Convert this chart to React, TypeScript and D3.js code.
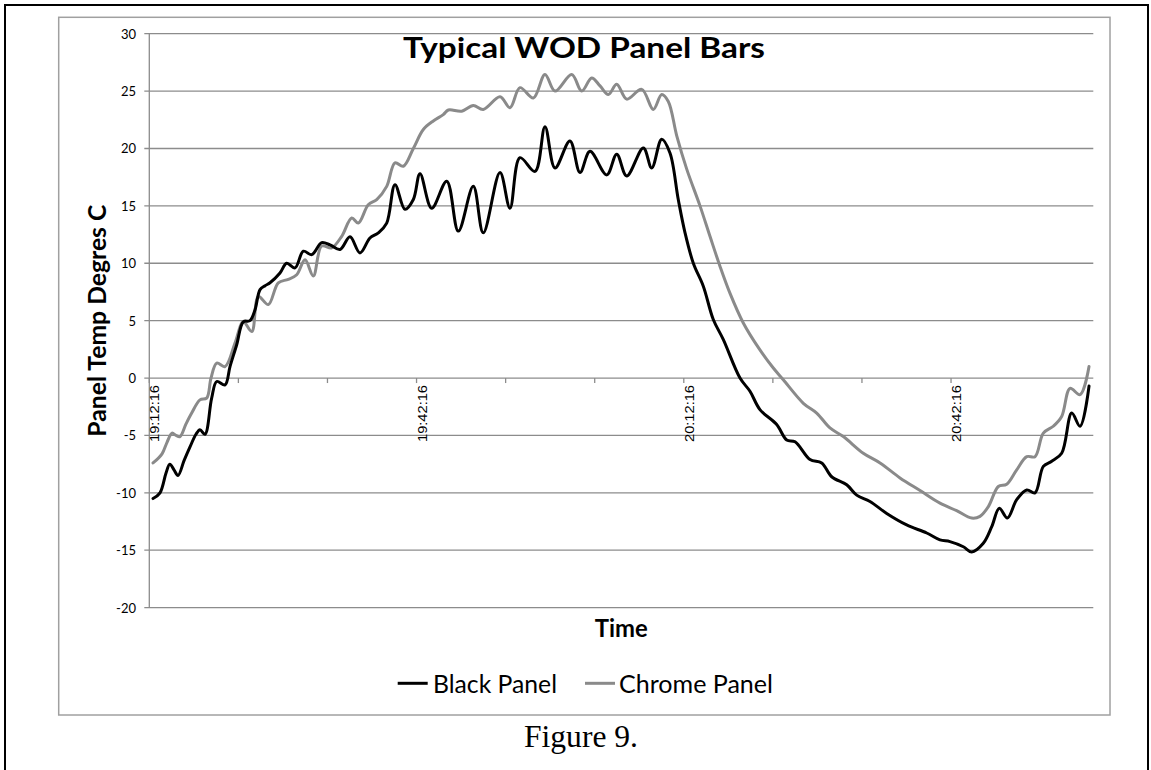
import React from "react";
import * as d3 from "d3";

// ---- data (minutes after 19:12:16, panel temperature °C) ----
const blackMinutes = [0.42, 1.2, 1.87, 2.3, 2.77, 3.22, 3.9, 4.57, 5.24, 5.69, 6.25, 7.0, 7.57, 8.5, 9.06, 9.81, 10.55, 11.3, 11.87, 12.43, 13.0, 13.55, 14.67, 15.42, 16.36, 17.29, 18.23, 19.35, 20.29, 21.41, 22.53, 23.65, 24.77, 25.71, 26.65, 27.58, 28.7, 29.64, 30.39, 31.7, 33.39, 34.69, 36.37, 37.49, 39.37, 40.49, 41.61, 43.3, 44.42, 45.54, 47.22, 48.35, 49.47, 51.35, 52.47, 53.59, 55.46, 56.4, 57.52, 58.45, 59.38, 60.14, 61.07, 62.19, 63.31, 64.44, 66.31, 67.43, 68.55, 70.43, 71.55, 72.49, 74.17, 75.48, 76.6, 78.29, 79.41, 80.9, 82.78, 85.02, 87.27, 88.76, 89.88, 91.38, 92.32, 93.62, 94.57, 95.42, 96.32, 97.37, 98.5, 99.43, 100.36, 101.3, 102.42, 103.55, 104.48, 105.49];
const blackTemps = [-10.5, -10.0, -8.3, -7.5, -8.0, -8.5, -7.2, -6.0, -4.9, -4.5, -4.9, -1.75, -0.3, -0.6, 1.0, 2.9, 4.9, 5.0, 5.95, 7.7, 8.05, 8.3, 9.15, 10.0, 9.6, 11.05, 10.75, 11.8, 11.6, 11.2, 12.3, 10.9, 12.2, 12.65, 13.5, 16.85, 14.7, 15.55, 17.8, 14.8, 17.15, 12.8, 16.7, 12.65, 17.9, 14.8, 19.2, 18.0, 21.9, 18.3, 20.65, 17.9, 19.75, 17.7, 19.5, 17.6, 20.05, 18.3, 20.8, 19.6, 15.55, 12.65, 10.0, 8.0, 5.1, 3.35, 0.0, -1.15, -2.75, -4.05, -5.4, -5.55, -7.1, -7.4, -8.6, -9.3, -10.2, -10.75, -11.8, -12.8, -13.5, -14.1, -14.25, -14.7, -15.15, -14.4, -12.95, -11.35, -12.2, -10.6, -9.75, -10.0, -7.7, -7.25, -6.55, -3.05, -4.2, -0.7];

const chromeMinutes = [0.42, 1.43, 1.99, 2.55, 3.0, 3.45, 4.12, 4.76, 5.69, 6.44, 6.93, 7.57, 8.5, 9.62, 10.55, 11.5, 12.24, 13.36, 14.48, 15.6, 16.55, 17.48, 18.41, 19.35, 20.48, 21.6, 22.72, 23.46, 24.58, 25.53, 26.65, 27.58, 28.51, 29.64, 30.76, 31.88, 33.0, 33.57, 35.07, 36.37, 37.49, 39.37, 40.49, 41.61, 43.11, 44.42, 45.54, 47.42, 48.54, 49.66, 50.6, 51.53, 52.47, 53.59, 55.28, 56.58, 57.52, 58.26, 59.21, 60.33, 61.82, 62.94, 64.06, 65.18, 66.68, 68.55, 70.05, 71.17, 73.42, 74.92, 76.41, 77.91, 80.15, 82.03, 84.27, 86.52, 88.76, 90.63, 92.32, 93.25, 94.19, 95.31, 96.25, 97.37, 98.5, 99.43, 100.36, 101.48, 102.42, 103.36, 104.48, 105.49];
const chromeTemps = [-7.4, -6.6, -5.6, -4.8, -5.0, -5.1, -4.0, -3.05, -1.9, -1.75, 0.0, 1.3, 1.0, 3.05, 4.9, 4.05, 7.1, 6.4, 8.3, 8.6, 9.0, 10.3, 8.9, 11.5, 11.35, 12.35, 13.95, 13.5, 15.1, 15.55, 16.7, 18.75, 18.45, 20.0, 21.65, 22.4, 22.95, 23.35, 23.25, 23.75, 23.4, 24.5, 23.55, 25.3, 24.4, 26.45, 25.0, 26.45, 25.0, 26.15, 25.45, 24.7, 25.6, 24.3, 25.15, 23.4, 24.7, 24.1, 21.1, 18.2, 15.0, 12.35, 9.75, 7.4, 4.8, 2.45, 0.87, -0.15, -2.2, -3.05, -4.35, -5.1, -6.55, -7.4, -8.7, -9.8, -10.9, -11.55, -12.2, -12.05, -11.2, -9.45, -9.25, -8.0, -6.85, -6.85, -4.8, -4.2, -3.35, -0.9, -1.45, 1.0];

const yTicks = [-20, -15, -10, -5, 0, 5, 10, 15, 20, 25, 30];
const xTickMinutes = [0, 10, 20, 30, 40, 50, 60, 70, 80, 90];
const xLabelMinutes = [0, 30, 60, 90];
const xLabels = ["19:12:16", "19:42:16", "20:12:16", "20:42:16"];
const seriesNames = ["Black Panel", "Chrome Panel"];
const seriesColors = ["#000000", "#8a8a8a"];

const W = 1151;
const H = 770;
const plotL = 149.3;
const plotR = 1093.3;
const plotT = 33.7;
const plotB = 607.6;

export default function App() {
  const x = d3.scaleLinear().domain([0, 105.97]).range([plotL, plotR]);
  const y = d3.scaleLinear().domain([-20, 30]).range([plotB, plotT]);

  const line = d3
    .line<[number, number]>()
    .x((d) => x(d[0]))
    .y((d) => y(d[1]))
    .curve(d3.curveCatmullRom.alpha(0.5));

  const blackData: [number, number][] = blackMinutes.map((m, i) => [m, blackTemps[i]]);
  const chromeData: [number, number][] = chromeMinutes.map((m, i) => [m, chromeTemps[i]]);

  const grid = "#8c8c8c";
  const calibri = "Lato, 'Open Sans', sans-serif";

  return (
    <svg
      width={W}
      height={H}
      style={{ position: "absolute", left: 0, top: 0, background: "#fff" }}
    >
      <rect x={0} y={0} width={W} height={H} fill="#fff" />
      {/* outer page border */}
      <rect x={5} y={5} width={1143} height={800} fill="none" stroke="#000" strokeWidth={2} />
      {/* chart frame */}
      <rect x={58.7} y={17.3} width={1051.3} height={697.7} fill="#fff" stroke="#a0a0a0" strokeWidth={1.5} />

      {/* gridlines */}
      {yTicks.map((t) => (
        <line key={"g" + t} x1={plotL - 5} x2={plotR} y1={y(t)} y2={y(t)} stroke={grid} strokeWidth={1.3} />
      ))}
      {/* y axis */}
      <line x1={plotL} x2={plotL} y1={plotT} y2={plotB} stroke={grid} strokeWidth={1.3} />
      {yTicks.map((t) => (
        <text
          key={"yl" + t}
          x={136}
          y={y(t) + 5}
          textAnchor="end"
          fontFamily={calibri}
          fontSize={13}
          fill="#000"
        >
          {t}
        </text>
      ))}
      {/* x tick marks at y=0 */}
      {xTickMinutes.map((m) => (
        <line key={"xt" + m} x1={x(m)} x2={x(m)} y1={y(0)} y2={y(0) + 5} stroke={grid} strokeWidth={1.3} />
      ))}
      {xLabelMinutes.map((m, i) => (
        <text
          key={"xl" + m}
          transform={`translate(${x(m) + 10},385) rotate(-90)`}
          textAnchor="end"
          fontFamily="'Liberation Sans', Arial, sans-serif"
          fontSize={12}
          textLength={57}
          lengthAdjust="spacingAndGlyphs"
          fill="#000"
        >
          {xLabels[i]}
        </text>
      ))}

      {/* series */}
      <path d={line(chromeData) || ""} fill="none" stroke={seriesColors[1]} strokeWidth={3} strokeLinejoin="round" strokeLinecap="round" />
      <path d={line(blackData) || ""} fill="none" stroke={seriesColors[0]} strokeWidth={3} strokeLinejoin="round" strokeLinecap="round" />

      {/* title */}
      <text
        x={584}
        y={58}
        textAnchor="middle"
        fontFamily={calibri}
        fontWeight="bold"
        fontSize={28}
        textLength={362}
        lengthAdjust="spacingAndGlyphs"
        fill="#000"
      >
        Typical WOD Panel Bars
      </text>

      {/* y axis title */}
      <text
        transform={`translate(105.5,${(plotT + plotB) / 2}) rotate(-90)`}
        textAnchor="middle"
        fontFamily={calibri}
        fontWeight="bold"
        fontSize={25}
        textLength={232}
        lengthAdjust="spacingAndGlyphs"
        fill="#000"
      >
        Panel Temp Degres C
      </text>

      {/* x axis title */}
      <text
        x={(plotL + plotR) / 2}
        y={637}
        textAnchor="middle"
        fontFamily={calibri}
        fontWeight="bold"
        fontSize={25}
        textLength={53}
        lengthAdjust="spacingAndGlyphs"
        fill="#000"
      >
        Time
      </text>

      {/* legend */}
      <line x1={397.7} x2={427.7} y1={683.3} y2={683.3} stroke={seriesColors[0]} strokeWidth={3} />
      <text x={433} y={692.7} fontFamily={calibri} fontSize={25} textLength={124} lengthAdjust="spacingAndGlyphs" fill="#000">
        {seriesNames[0]}
      </text>
      <line x1={585} x2={615} y1={683.3} y2={683.3} stroke={seriesColors[1]} strokeWidth={3} />
      <text x={619} y={692.7} fontFamily={calibri} fontSize={25} textLength={154} lengthAdjust="spacingAndGlyphs" fill="#000">
        {seriesNames[1]}
      </text>

      {/* caption */}
      <text
        x={581}
        y={746.7}
        textAnchor="middle"
        fontFamily="'Liberation Serif', 'Times New Roman', serif"
        fontSize={32}
        textLength={114}
        lengthAdjust="spacingAndGlyphs"
        fill="#000"
      >
        Figure 9.
      </text>
    </svg>
  );
}
